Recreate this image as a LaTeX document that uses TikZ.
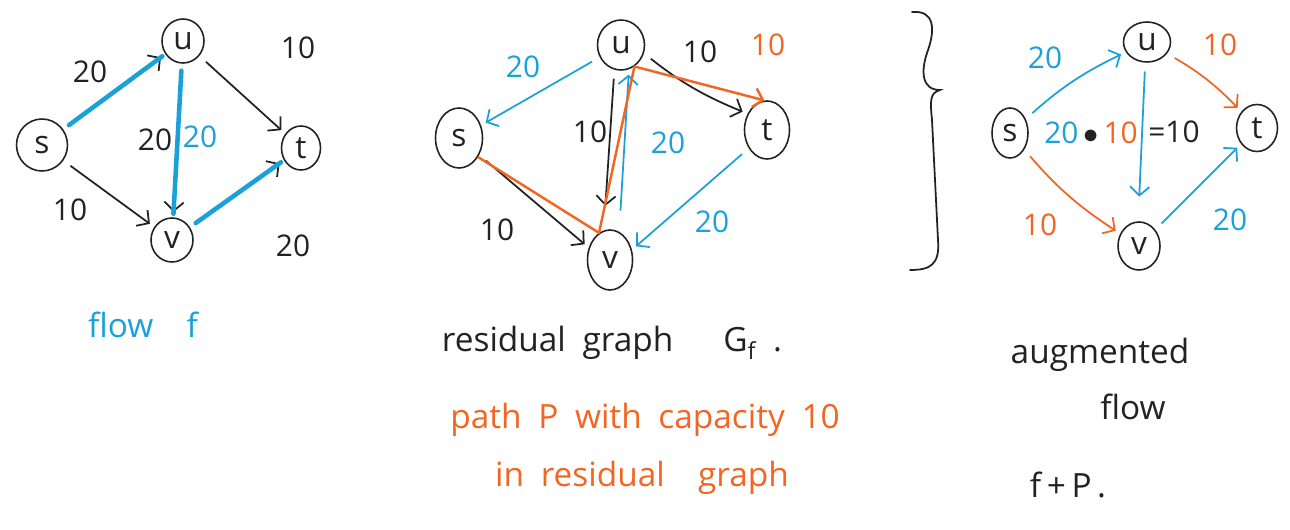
\documentclass[tikz,border=0pt]{standalone}
\usepackage{fontspec}
\setmainfont{Open Sans}
\usetikzlibrary{arrows.meta, shapes.geometric}
\definecolor{flowblue}{HTML}{1BA1D9}
\definecolor{pathorange}{HTML}{F26522}
\definecolor{ink}{HTML}{222222}
\tikzstyle{vertex} = [
    ellipse, draw=ink, line width=0.9pt, inner sep=0pt,
    minimum width=0.84cm, minimum height=0.88cm,
    font=\fontsize{18}{18}\selectfont, text=ink
]
\tikzstyle{edge} = [-{Straight Barb[length=5pt, width=11pt]}, ink, line width=1pt, shorten <=5pt, shorten >=3pt]
\tikzstyle{bedge} = [edge, flowblue]
\tikzstyle{oedge} = [edge, pathorange]
\tikzstyle{flowline} = [flowblue, line width=2.6pt, line cap=round, shorten <=4pt, shorten >=2pt]
\tikzstyle{pathline} = [pathorange, line width=1.4pt, line join=round, -{Straight Barb[length=5pt, width=11pt]}]
\tikzstyle{wlabel} = [font=\fontsize{17}{17}\selectfont, text=ink, inner sep=1pt]
\tikzstyle{note} = [font=\fontsize{19}{22}\selectfont, inner sep=1pt]

\begin{document}
\begin{tikzpicture}[x=0.02cm, y=-0.02cm]
    \useasboundingbox (0,0) rectangle (1290,530);

    % Flow f
    \node[vertex, minimum width=1.02cm, minimum height=1.04cm] (s1) at (42,145) {s};
    \node[vertex] (u1) at (183,41) {u};
    \node[vertex, minimum width=0.78cm] (t1) at (301,148) {t};
    \node[vertex] (v1) at (172,240) {v};

    \draw[edge] (s1) -- (u1);
    \draw[edge] (u1) -- (v1);
    \draw[edge] (u1) -- (t1);
    \draw[edge] (s1) -- (v1);
    \draw[edge] (v1) -- (t1);
    \draw[flowline] (s1) -- (u1);
    \draw[flowline] (u1) -- (v1);
    \draw[flowline] (v1) -- (t1);

    \node[wlabel] (w1su) at (90,72) {20};
    \node[wlabel] (w1uv) at (155,140) {20};
    \node[wlabel, text=flowblue] (f1uv) at (200,137) {20};
    \node[wlabel] (w1ut) at (298,48) {10};
    \node[wlabel] (w1sv) at (70,210) {10};
    \node[wlabel] (w1vt) at (293,246) {20};
    \node[note, text=flowblue] (lbl1) at (143,325) {flow\quad f};

    % Residual graph
    \node[vertex, minimum width=0.94cm, minimum height=1.2cm] (s2) at (459,138) {s};
    \node[vertex, minimum width=0.94cm, minimum height=1.0cm] (u2) at (621,45) {u};
    \node[vertex, minimum width=0.9cm, minimum height=1.16cm] (t2) at (767,130) {t};
    \node[vertex, minimum width=0.9cm, minimum height=1.2cm] (v2) at (610,260) {v};

    \draw[bedge] (u2) -- (s2);
    \draw[edge, shorten >=14pt] (u2.-105) -- (v2.102);
    \draw[bedge, shorten <=12pt] (v2.72) -- (u2.-72);
    \draw[edge] (u2.-20) to[bend right=8] (t2.140);
    \draw[bedge] (t2.-135) -- (v2.25);
    \draw[edge] (s2.-40) -- (v2.150);
    \draw[pathline] (s2.-45) -- (v2.112) -- (u2.-58) -- (t2.95);

    \node[wlabel, text=flowblue] (w2us) at (523,67) {20};
    \node[wlabel] (w2uv) at (590,132) {10};
    \node[wlabel, text=flowblue] (w2vu) at (668,143) {20};
    \node[wlabel] (w2ut) at (700,52) {10};
    \node[wlabel, text=pathorange] (p2ut) at (768,45) {10};
    \node[wlabel, text=flowblue] (w2tv) at (712,222) {20};
    \node[wlabel] (w2sv) at (497,230) {10};
    \node[note, text=ink] (lbl2) at (612,343) {residual\enspace graph\quad\enspace G\textsubscript{f}\enspace .};
    \node[note, text=pathorange] (lbl3) at (645,420) {path\enspace P\enspace with\enspace capacity\enspace 10};
    \node[note, text=pathorange] (lbl4) at (642,478) {in\enspace residual\enspace\enspace graph};

    % Brace
    \draw[ink, line width=1pt, line cap=round]
        (912,12) .. controls (935,10) and (935,30) .. (928,50)
        .. controls (920,72) and (922,90) .. (940,90)
        .. controls (930,93) and (930,100) .. (932,120)
        -- (938,240) .. controls (940,265) and (930,270) .. (910,270);

    % Augmented flow
    \node[vertex, minimum width=0.72cm, minimum height=1.0cm] (s3) at (1010,133) {s};
    \node[vertex, minimum width=0.94cm, minimum height=0.8cm] (u3) at (1147,42) {u};
    \node[vertex, minimum width=0.82cm, minimum height=0.94cm] (t3) at (1257,128) {t};
    \node[vertex, minimum height=0.96cm] (v3) at (1139,246) {v};

    \draw[bedge] (s3) to[bend left=8] (u3);
    \draw[oedge] (u3) to[bend left=8] (t3);
    \draw[bedge, shorten >=14pt] (u3.-95) -- (v3.92);
    \draw[oedge] (s3) to[bend right=8] (v3);
    \draw[bedge] (v3) -- (t3);

    \node[wlabel, text=flowblue] (w3su) at (1045,58) {20};
    \node[wlabel, text=pathorange] (w3ut) at (1220,45) {10};
    \node[wlabel] (w3uv) at (1091,133) {\textcolor{flowblue}{20}\,$\bullet$\,\textcolor{pathorange}{10}};
    \node[wlabel] (w3eq) at (1174,132) {=10};
    \node[wlabel, text=pathorange] (w3sv) at (1040,225) {10};
    \node[wlabel, text=flowblue] (w3vt) at (1230,220) {20};
    \node[note, text=ink] (lbl5) at (1100,355) {augmented};
    \node[note, text=ink] (lbl6) at (1133,407) {flow};
    \node[note, text=ink] (lbl7) at (1068,485) {f\,+\,P\,.};

\end{tikzpicture}
\end{document}
